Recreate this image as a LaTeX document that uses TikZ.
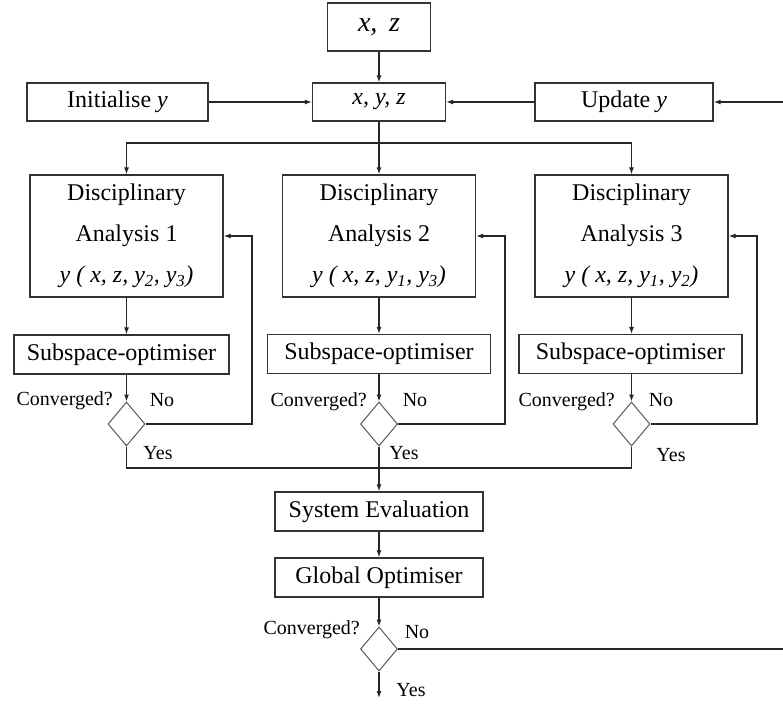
\documentclass[tikz,border=0pt]{standalone}
\usepackage{fontspec}
\setmainfont{Liberation Serif}
\usetikzlibrary{shapes.geometric,arrows.meta}
\begin{document}
\begin{tikzpicture}[x=1pt,y=-1pt,
  every node/.style={font=\fontsize{24}{28}\selectfont, text=black},
  box/.style={draw=black!80, line width=1.2pt, inner sep=0pt},
  dbox/.style={box, minimum width=193, minimum height=122, align=center,
    font=\fontsize{24}{41}\selectfont},
  dec/.style={draw=black!65, diamond, line width=1pt, minimum width=37,
    minimum height=44, inner sep=0pt},
  line/.style={draw=black!85, line width=1.2pt},
  arr/.style={line, -{Latex[length=7pt,width=5pt]}},
  lbl/.style={inner sep=0pt, font=\fontsize{20}{24}\selectfont}
]
\useasboundingbox (0,0) rectangle (783,707);

% inputs and shared variables
\node[box, minimum width=103, minimum height=48] (xz) at (379,27)
  {\fontsize{28}{30}\selectfont\itshape x,\, z};
\node[box, minimum width=181, minimum height=38] (init) at (117.5,102) {Initialise \textit{y}};
\node[box, minimum width=133, minimum height=38] (xyz) at (379,102) {\textit{x, y, z}};
\node[box, minimum width=178, minimum height=38] (upd) at (624,102) {Update \textit{y}};

% disciplinary analyses
\node[dbox] (da1) at (126.5,236) {Disciplinary\\Analysis 1\\\textit{y ( x, z, y\textsubscript{2}, y\textsubscript{3})}};
\node[dbox] (da2) at (379,236) {Disciplinary\\Analysis 2\\\textit{y ( x, z, y\textsubscript{1}, y\textsubscript{3})}};
\node[dbox] (da3) at (631.5,236) {Disciplinary\\Analysis 3\\\textit{y ( x, z, y\textsubscript{1}, y\textsubscript{2})}};

% subspace optimisers
\node[box, minimum width=215, minimum height=39] (so1) at (121.5,354.5) {Subspace-optimiser};
\node[box, minimum width=223, minimum height=39] (so2) at (379,354) {Subspace-optimiser};
\node[box, minimum width=223, minimum height=39] (so3) at (630.5,354) {Subspace-optimiser};

% local convergence checks
\node[dec] (d1) at (126.5,424) {};
\node[dec] (d2) at (379,424) {};
\node[dec] (d3) at (631.5,424) {};

% system level
\node[box, minimum width=208, minimum height=39] (sys) at (379,511.5) {System Evaluation};
\node[box, minimum width=208, minimum height=39] (glob) at (379,577.5) {Global Optimiser};
\node[dec] (dg) at (379,649) {};

% labels
\node[lbl, anchor=east] (c1) at (113,401) {Converged?};
\node[lbl] (n1) at (162,400) {No};
\node[lbl] (y1) at (158,453) {Yes};
\node[lbl, anchor=east] (c2) at (367,402) {Converged?};
\node[lbl] (n2) at (415,400) {No};
\node[lbl] (y2) at (404,453) {Yes};
\node[lbl, anchor=east] (c3) at (615,402) {Converged?};
\node[lbl] (n3) at (661,400) {No};
\node[lbl] (y3) at (671,455) {Yes};
\node[lbl, anchor=east] (cg) at (360,630) {Converged?};
\node[lbl] (ng) at (417,632) {No};
\node[lbl] (yg) at (411,690) {Yes};

% routing points
\coordinate (sp) at (379,143);
\coordinate (r1) at (252,236);
\coordinate (r2) at (505,236);
\coordinate (r3) at (757,236);
\coordinate (m) at (379,468);
\coordinate (rg) at (783.5,649);
\coordinate (rt) at (783.5,102);
\coordinate (out) at (379,698);

% top connectors
\draw[arr] (xz) -- (xyz);
\draw[arr] (init) -- (xyz);
\draw[arr] (upd) -- (xyz);
\draw[arr] (xyz) -- (da2);
\draw[arr] (sp) -| (da1.north);
\draw[arr] (sp) -| (da3.north);

% analysis -> optimiser -> check
\draw[arr] (da1) -- (da1 |- so1.north);
\draw[arr] (da2) -- (so2);
\draw[arr] (da3) -- (da3 |- so3.north);
\draw[arr] (so1.south -| d1) -- (d1.north);
\draw[arr] (so2) -- (d2);
\draw[arr] (so3.south -| d3) -- (d3.north);

% local loops
\draw[arr] (d1.east) -| (r1) -- (da1.east);
\draw[arr] (d2.east) -| (r2) -- (da2.east);
\draw[arr] (d3.east) -| (r3) -- (da3.east);

% merge to system evaluation
\draw[line] (d1.south) |- (m);
\draw[line] (d3.south) |- (m);
\draw[arr] (d2.south) -- (sys.north);
\draw[arr] (sys) -- (glob);
\draw[arr] (glob) -- (dg);
\draw[arr] (dg.south) -- (out);

% global loop back to the update step
\draw[arr] (dg.east) -- (rg) -- (rt) -- (upd.east);
\end{tikzpicture}
\end{document}
